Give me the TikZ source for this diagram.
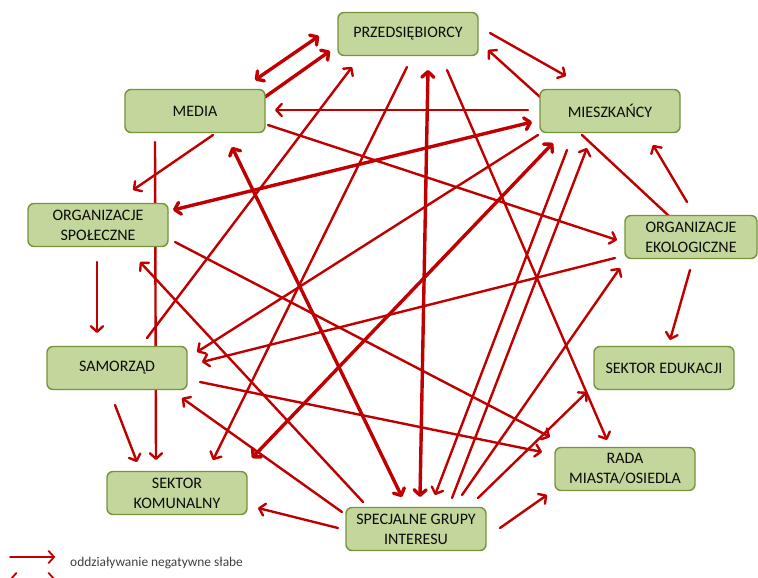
\documentclass[tikz,border=0pt]{standalone}
\usepackage{fontspec}
\setmainfont{Carlito}
\usetikzlibrary{arrows.meta,calc}
\pgfdeclarelayer{bg}
\pgfsetlayers{bg,main}
\definecolor{lnred}{HTML}{C00000}
\definecolor{boxfill}{HTML}{C3D69B}
\definecolor{boxdraw}{HTML}{77933C}
\definecolor{txt}{HTML}{0D0D0D}
\definecolor{legtxt}{HTML}{404040}
\begin{document}
\begin{tikzpicture}[x=1pt,y=-1pt,
  box/.style={draw=boxdraw, fill=boxfill, line width=1.4pt, rounded corners=6pt,
    minimum width=140pt, minimum height=43pt, inner sep=0pt, align=center,
    text=txt, font=\fontsize{16}{20}\selectfont},
  conn/.style={draw=lnred, line width=2.4pt, line cap=round, line join=round},
  thk/.style={conn, line width=3.4pt},
  tip/.style={-{Straight Barb[length=5.5pt,width=12pt,round]}},
  tips/.style={{Straight Barb[length=5.5pt,width=12pt,round]}-{Straight Barb[length=5.5pt,width=12pt,round]}},
]
\useasboundingbox (0,0) rectangle (758,578);

\node[box] (p) at (408,34) {PRZEDSIĘBIORCY};
\node[box] (m) at (195,111) {MEDIA};
\node[box] (mi) at (610,111) {MIESZKAŃCY};
\node[box] (os) at (98,225) {ORGANIZACJE\\SPOŁECZNE};
\node[box,minimum width=132pt] (oe) at (691,237) {ORGANIZACJE\\EKOLOGICZNE};
\node[box] (s) at (117,368) {SAMORZĄD};
\node[box] (se) at (664,368) {SEKTOR EDUKACJI};
\node[box] (sk) at (177,493) {SEKTOR\\KOMUNALNY};
\node[box] (r) at (625,469) {RADA\\MIASTA/OSIEDLA};
\node[box] (g) at (416,529) {SPECJALNE GRUPY\\INTERESU};

\begin{pgfonlayer}{bg}
\fill[white] (0,0) rectangle (758,578);
\draw[thk,tips] ($(m)+(60,-31)$) -- ($(p)+(-89,2)$);
\draw[thk,tip] ($(m)+(70,-14)$) -- ($(p)+(-78,17)$);
\draw[conn,tip] ($(s)+(30,-30)$) -- ($(p)+(-56,33)$);
\draw[conn,tip] ($(p)+(82,-1)$) -- ($(mi)+(-44,-35)$);
\draw[conn,tip] ($(mi)+(-70,-14)$) -- ($(p)+(80,16)$);
\draw[conn,tip] ($(mi)+(-82,-1)$) -- ($(m)+(80,-1)$);
\draw[conn,tip] ($(p)+(-1,33)$) -- ($(sk)+(36,-33)$);
\draw[thk,tips] ($(p)+(20,36)$) -- ($(g)+(4,-32)$);
\draw[conn,tip] ($(p)+(39,36)$) -- ($(r)+(-18,-29)$);
\draw[conn,tip] ($(m)+(18,24)$) -- ($(os)+(35,-35)$);
\draw[conn,tip] ($(m)+(-40,31)$) -- ($(sk)+(-21,-33)$);
\draw[thk,tips] ($(m)+(37,36)$) -- ($(g)+(-14,-32)$);
\draw[thk,tips] ($(os)+(75,-15)$) -- ($(mi)+(-78,11)$);
\draw[conn,tip] ($(m)+(73,14)$) -- ($(oe)+(-74,3)$);
\draw[thk,tips] ($(mi)+(-57,32)$) -- ($(sk)+(75,-35)$);
\draw[conn,tip] ($(mi)+(-72,24)$) -- ($(s)+(80,-16)$);
\draw[conn,tip] ($(oe)+(-76,21)$) -- ($(s)+(85,-6)$);
\draw[conn,tip] ($(mi)+(-43,39)$) -- ($(g)+(19,-34)$);
\draw[conn,tip] ($(g)+(36,-31)$) -- ($(mi)+(-23,37)$);
\draw[conn] ($(mi)+(-28,24)$) -- ($(oe)+(-21,-20)$);
\draw[conn,tip] ($(oe)+(-4,-35)$) -- ($(mi)+(43,34)$);
\draw[conn,tip] ($(oe)+(-1,33)$) -- ($(se)+(6,-28)$);
\draw[conn,tip] ($(os)+(-1,37)$) -- ($(s)+(-20,-35)$);
\draw[conn,tip] ($(s)+(-2,37)$) -- ($(sk)+(-40,-31)$);
\draw[conn,tip] ($(os)+(77,17)$) -- ($(r)+(-75,-32)$);
\draw[conn,tip] ($(s)+(83,14)$) -- ($(r)+(-83,-17)$);
\draw[conn,tip] ($(g)+(84,-1)$) -- ($(r)+(-78,26)$);
\draw[conn,tip] ($(g)+(-53,-27)$) -- ($(os)+(42,37)$);
\draw[conn,tip] ($(g)+(-74,-17)$) -- ($(s)+(65,30)$);
\draw[conn,tip] ($(g)+(-78,-1)$) -- ($(sk)+(81,15)$);
\draw[conn,tip] ($(g)+(62,-31)$) -- ($(se)+(-77,24)$);
\draw[conn,tip] ($(g)+(46,-34)$) -- ($(oe)+(-71,31)$);
\end{pgfonlayer}

\coordinate (l1a) at (10,557);
\coordinate (l1b) at (55,557);
\coordinate (l2a) at (10,579);
\coordinate (l2b) at (55,579);
\draw[conn,line width=1.8pt,tip] (l1a) -- (l1b);
\draw[conn,line width=1.8pt,tips] (l2a) -- (l2b);
\node[anchor=west, text=legtxt, font=\fontsize{13.4}{16}\selectfont, inner sep=0pt] (leg) at (70,563) {oddziaływanie negatywne słabe};
\end{tikzpicture}
\end{document}
